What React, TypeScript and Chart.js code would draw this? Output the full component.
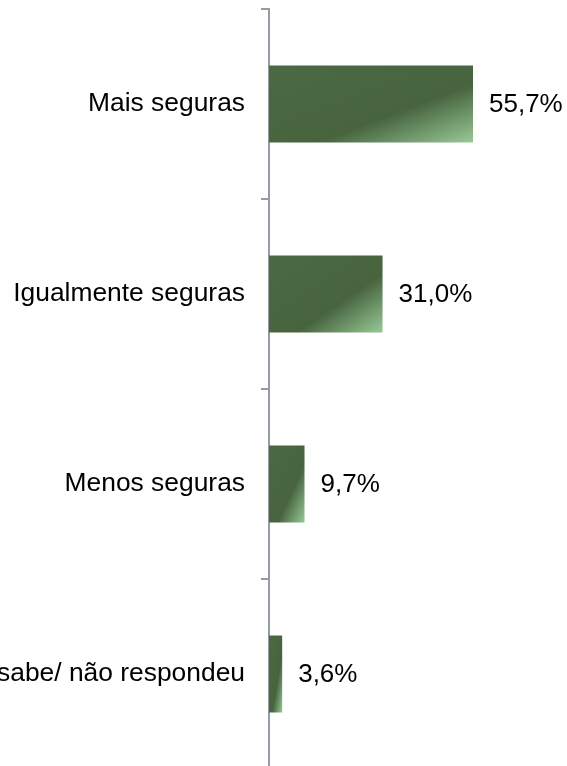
import React, { useEffect, useRef } from 'react';
import { Chart, registerables } from 'chart.js';

Chart.register(...registerables);

const categories = ['Mais seguras', 'Igualmente seguras', 'Menos seguras', 'Não sabe/ não respondeu'];
const values = [55.7, 31.0, 9.7, 3.6];
const valueLabels = ['55,7%', '31,0%', '9,7%', '3,6%'];

const AXIS_COLOR = '#959ca6';
const BAR_PCT = 0.405;
const FONT = "'Liberation Sans', Arial, sans-serif";
const DARK = '#4a6742';

const valueLabelPlugin = {
  id: 'valueLabels',
  afterDatasetsDraw(chart: any) {
    const ctx = chart.ctx;
    const meta = chart.getDatasetMeta(0);
    ctx.save();
    ctx.font = `26px ${FONT}`;
    ctx.fillStyle = '#000';
    ctx.textAlign = 'left';
    ctx.textBaseline = 'middle';
    meta.data.forEach((el: any, i: number) => {
      ctx.fillText(valueLabels[i], el.x + 16, el.y + 1);
    });
    ctx.restore();
  },
};

export default function App() {
  const ref = useRef<HTMLCanvasElement | null>(null);

  useEffect(() => {
    if (!ref.current) return;
    document.body.style.overflow = 'hidden';
    const chart = new Chart(ref.current, {
      type: 'bar',
      data: {
        labels: categories,
        datasets: [
          {
            data: values,
            borderWidth: 0,
            barPercentage: BAR_PCT,
            categoryPercentage: 1,
            backgroundColor: (c: any) => {
              const ch = c.chart;
              const xs = ch.scales?.x;
              const ys = ch.scales?.y;
              if (!xs || !ys || c.type !== 'data') return DARK;
              const x0 = xs.getPixelForValue(0);
              const x1 = xs.getPixelForValue(values[c.dataIndex]);
              const yc = ys.getPixelForValue(c.dataIndex);
              const h = (ys.height / categories.length) * BAR_PCT;
              const w = x1 - x0;
              if (![x0, x1, yc, h, w].every((v) => Number.isFinite(v)) || w <= 0 || h <= 0) return DARK;
              const yt = yc - h / 2;
              const k = 2 / (1 / (w * w) + 1 / (h * h));
              const g = ch.ctx.createLinearGradient(x0, yt, x0 + k / w, yt + k / h);
              g.addColorStop(0, '#4b6943');
              g.addColorStop(0.62, '#47643f');
              g.addColorStop(1, '#98c996');
              return g;
            },
          },
        ],
      },
      options: {
        indexAxis: 'y',
        responsive: false,
        animation: false,
        devicePixelRatio: 1,
        layout: { padding: { top: 9, bottom: 11, right: 5, left: 0 } },
        plugins: { legend: { display: false }, tooltip: { enabled: false } },
        scales: {
          x: { display: false, min: 0, max: 80 },
          y: {
            afterFit: (s: any) => {
              s.width = 269;
              s.paddingTop = 0;
              s.paddingBottom = 0;
            },
            grid: {
              display: true,
              drawOnChartArea: false,
              drawTicks: true,
              tickLength: 8,
              color: AXIS_COLOR,
              lineWidth: 2,
              offset: true,
            },
            border: { display: true, color: AXIS_COLOR, width: 2 },
            ticks: {
              color: '#000',
              font: { family: FONT, size: 26.4 },
              padding: 16,
              autoSkip: false,
            },
          },
        },
      },
      plugins: [valueLabelPlugin],
    });
    chart.update();
    return () => chart.destroy();
  }, []);

  return (
    <div style={{ position: 'fixed', left: 0, top: 0, width: 567, height: 780, background: '#fff' }}>
      <canvas ref={ref} width={567} height={780} style={{ display: 'block' }} />
    </div>
  );
}
